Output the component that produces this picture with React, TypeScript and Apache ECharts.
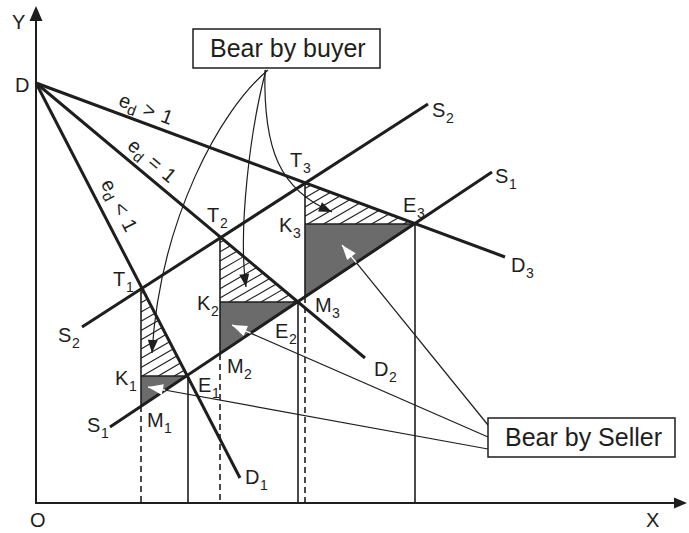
import React, { useEffect, useRef } from "react";
import * as echarts from "echarts";

type P = [number, number];

// ---- Diagram data (units from origin O; x to the right, y upward) ----
const axisXEnd: P = [651, 0];
const axisYEnd: P = [0, 497];

const pointD: P = [0, 420];
const demandEnds: P[] = [[204, 25], [329, 145], [469, 246]]; // D1, D2, D3
const elasticityOps = ["<", "=", ">"]; // along D1, D2, D3
const elasticityAt: P[] = [[84, 297], [117, 342], [111, 394]];

const supplyS1: P[] = [[74, 76], [456, 331]];
const supplyS2: P[] = [[46, 176], [392, 399]];

const pointsT: P[] = [[105, 215], [184, 266], [269, 320]];
const pointsE: P[] = [[152, 127], [262, 201], [379, 279]];
const pointsK: P[] = [[105, 127], [184, 201], [269, 279]];
const pointsM: P[] = [[105, 97], [184, 149], [269, 206]];

const buyerCurves: P[][] = [
  [[232, 433], [184, 393], [124, 283], [116, 150]],
  [[230, 433], [214, 373], [202, 273], [210, 216]],
  [[229, 433], [227, 353], [244, 313], [296, 291]],
];
const sellerPointers: P[][] = [
  [[452, 54], [112, 116]],
  [[452, 66], [196, 178]],
  [[452, 78], [306, 258]],
];

const buyerBox: P[] = [[157, 474], [344, 435]];
const sellerBox: P[] = [[452, 85], [639, 46]];
const boxTexts = ["Bear by buyer", "Bear by Seller"];
const boxTextAt: P[] = [[174, 455], [469, 66]];

const pointLabels: [string, string, number, number][] = [
  ["Y", "", -24, 481], ["D", "", -21, 418], ["O", "", -6, -17], ["X", "", 610, -17],
  ["T", "1", 77, 224], ["T", "2", 171, 288], ["T", "3", 254, 343],
  ["K", "1", 79, 125], ["K", "2", 161, 200], ["K", "3", 243, 278],
  ["E", "1", 162, 118], ["E", "2", 239, 172], ["E", "3", 367, 298],
  ["M", "1", 111, 83], ["M", "2", 191, 137], ["M", "3", 279, 198],
  ["S", "1", 51, 78], ["S", "1", 459, 327], ["S", "2", 22, 168], ["S", "2", 396, 393],
  ["D", "1", 209, 26], ["D", "2", 338, 134], ["D", "3", 475, 238],
];

const INK = "#1e1e1e";
const GREY = "#6b6b6b";
const FONT = '"Liberation Sans", Arial, Helvetica, sans-serif';
const letterW: Record<string, number> = { T: 12, K: 13, E: 13, M: 16, S: 13, D: 14, X: 13, Y: 13, O: 15 };

const renderItem = (_params: any, api: any) => {
  const c = (p: P) => api.coord(p) as number[];
  const ch: any[] = [];
  const seg = (a: number[], b: number[], w: number, color = INK, dash?: number[]) => {
    const style: any = { stroke: color, lineWidth: w, fill: "none" };
    if (dash) style.lineDash = dash;
    ch.push({ type: "line", shape: { x1: a[0], y1: a[1], x2: b[0], y2: b[1] }, style });
  };
  const arrow = (tip: number[], from: number[], len: number, hw: number, color: string) => {
    const dx = tip[0] - from[0], dy = tip[1] - from[1];
    const d = Math.hypot(dx, dy) || 1;
    const ux = dx / d, uy = dy / d;
    const bx = tip[0] - ux * len, by = tip[1] - uy * len;
    ch.push({
      type: "polygon",
      shape: { points: [tip, [bx - uy * hw, by + ux * hw], [bx + uy * hw, by - ux * hw]] },
      style: { fill: color, stroke: "none" },
    });
  };
  const hatch = (tri: number[][], gap: number, ang: number) => {
    const nx = Math.sin(ang), ny = Math.cos(ang);
    const ks = tri.map((v) => v[0] * nx + v[1] * ny);
    const kmin = Math.min(...ks), kmax = Math.max(...ks);
    for (let k = kmin + gap * 0.6; k < kmax; k += gap) {
      const pts: number[][] = [];
      for (let i = 0; i < 3; i++) {
        const a = tri[i], b = tri[(i + 1) % 3];
        const da = a[0] * nx + a[1] * ny - k, db = b[0] * nx + b[1] * ny - k;
        if ((da < 0) !== (db < 0)) {
          const t = da / (da - db);
          pts.push([a[0] + (b[0] - a[0]) * t, a[1] + (b[1] - a[1]) * t]);
        }
      }
      if (pts.length >= 2) seg(pts[0], pts[1], 1.1);
    }
  };
  const text = (s: string, p: number[], size: number, extra: any = {}) => {
    ch.push({
      type: "text",
      x: p[0],
      y: p[1],
      style: { text: s, fill: INK, fontSize: size, fontFamily: FONT, align: "left", verticalAlign: "middle", ...extra },
    });
  };
  const intersect = (a: number[], b: number[], p: number[], q: number[]) => {
    const r = [b[0] - a[0], b[1] - a[1]], s = [q[0] - p[0], q[1] - p[1]];
    const den = r[0] * s[1] - r[1] * s[0];
    const t = ((p[0] - a[0]) * s[1] - (p[1] - a[1]) * s[0]) / den;
    return [a[0] + r[0] * t, a[1] + r[1] * t];
  };

  const O = c([0, 0]);
  const s1a = c(supplyS1[0]), s1b = c(supplyS1[1]);

  // grey (seller) and hatched (buyer) triangles
  for (let i = 0; i < 3; i++) {
    const K = c(pointsK[i]), E = c(pointsE[i]), M = c(pointsM[i]), T = c(pointsT[i]);
    ch.push({ type: "polygon", shape: { points: [K, E, M] }, style: { fill: GREY, stroke: "none" } });
    hatch([T, K, E], 8, Math.PI / 6);
  }
  // verticals and horizontals
  for (let i = 0; i < 3; i++) {
    const K = c(pointsK[i]), E = c(pointsE[i]), M = c(pointsM[i]), T = c(pointsT[i]);
    seg(T, M, 1.6);
    seg([M[0], M[1]], [M[0], O[1]], 1.6, INK, [6, 4]);
    seg(E, [E[0], O[1]], 1.6);
    seg(K, E, 1.6);
  }
  // demand & supply lines
  const D = c(pointD);
  demandEnds.forEach((e) => seg(D, c(e), 3));
  seg(s1a, s1b, 3);
  seg(c(supplyS2[0]), c(supplyS2[1]), 3);

  // axes
  const yTip = c(axisYEnd), xTip = c(axisXEnd);
  seg(O, [yTip[0], yTip[1] + 10], 2);
  arrow(yTip, O, 15, 6.5, INK);
  seg([O[0] - 1, O[1]], [xTip[0] - 8, xTip[1]], 2);
  arrow(xTip, O, 13, 5.5, INK);

  // buyer curves
  buyerCurves.forEach((cv) => {
    const [p0, p1, p2, p3] = cv.map(c);
    ch.push({
      type: "bezierCurve",
      shape: { x1: p0[0], y1: p0[1], cpx1: p1[0], cpy1: p1[1], cpx2: p2[0], cpy2: p2[1], x2: p3[0], y2: p3[1] },
      style: { stroke: INK, lineWidth: 1.2, fill: "none" },
    });
    arrow(p3, p2, 13, 5, INK);
  });

  // seller pointers
  sellerPointers.forEach((pt) => {
    const a = c(pt[0]), tip = c(pt[1]);
    seg(a, tip, 1.2);
    const cross = intersect(tip, a, s1a, s1b);
    seg(tip, cross, 1.5, "#ffffff");
    arrow(tip, a, 15, 5.5, "#ffffff");
  });

  // boxes
  [buyerBox, sellerBox].forEach((bx, i) => {
    const tl = c(bx[0]), br = c(bx[1]);
    ch.push({
      type: "rect",
      shape: { x: tl[0], y: tl[1], width: br[0] - tl[0], height: br[1] - tl[1] },
      style: { fill: "#ffffff", stroke: INK, lineWidth: 1.5 },
    });
    text(boxTexts[i], c(boxTextAt[i]), 25);
  });

  // point labels
  pointLabels.forEach(([m, sub, x, y]) => {
    const p = c([x, y]);
    text(m, p, 20);
    if (sub) text(sub, [p[0] + (letterW[m] || 13) + 1, p[1] + 8], 14);
  });

  // elasticity labels along demand curves
  elasticityOps.forEach((op, i) => {
    const e = c(demandEnds[i]);
    const rot = -Math.atan2(e[1] - D[1], e[0] - D[0]);
    const ctr = c(elasticityAt[i]);
    const mk = (s: string, x: number, y: number, size: number) => ({
      type: "text",
      x,
      y,
      style: { text: s, fill: INK, fontSize: size, fontFamily: FONT, align: "left", verticalAlign: "middle" },
    });
    ch.push({
      type: "group",
      x: ctr[0],
      y: ctr[1],
      rotation: rot,
      children: [mk("e", -29, 0, 20), mk("d", -18, 6, 15), mk(op, -3, 0, 20), mk("1", 16, 0, 20)],
    });
  });

  return { type: "group", children: ch };
};

const option: any = {
  animation: false,
  grid: { left: 0, right: 0, top: 0, bottom: 0 },
  xAxis: { type: "value", min: -36, max: 653, show: false },
  yAxis: { type: "value", min: -30, max: 503, show: false },
  series: [
    {
      type: "custom",
      renderItem,
      data: [[0, 0]],
      clip: false,
      silent: true,
    },
  ],
};

export default function App() {
  const ref = useRef<HTMLDivElement>(null);
  useEffect(() => {
    document.body.style.margin = "0";
    const chart = echarts.init(ref.current!, null, { renderer: "svg" });
    chart.setOption(option);
    return () => chart.dispose();
  }, []);
  return <div ref={ref} style={{ width: 689, height: 533, background: "#ffffff" }} />;
}
